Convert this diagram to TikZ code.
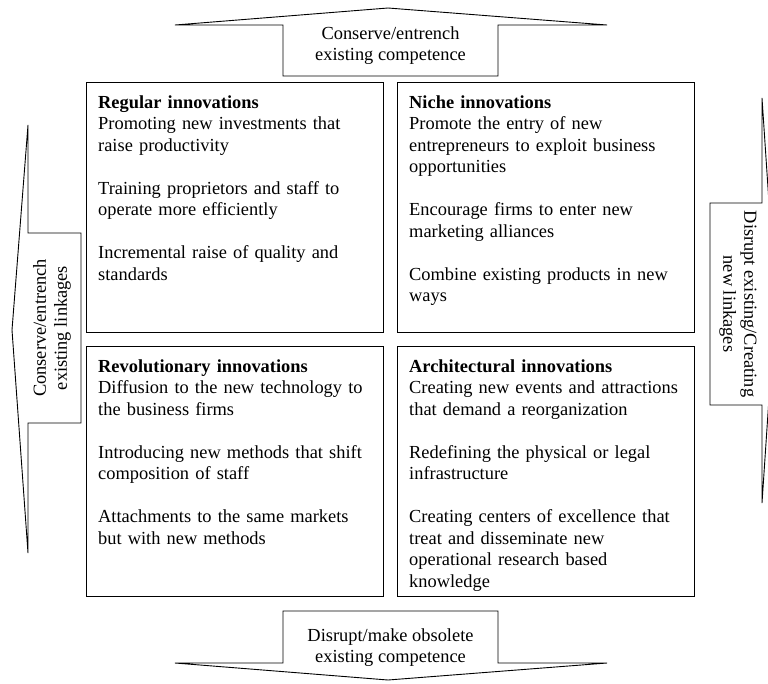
\documentclass[tikz,border=0pt]{standalone}
\usepackage{fontspec}
\setmainfont{Liberation Serif}
\begin{document}
\begin{tikzpicture}[x=1pt,y=-1pt,
  cell/.style={draw=black,line width=0.9pt,rectangle,minimum width=297pt,minimum height=250pt,inner sep=0pt,anchor=north west},
  celltext/.style={anchor=north west,inner sep=0pt,text width=290pt,align=left,font=\fontsize{18.4}{21.5}\selectfont},
  arrowshape/.style={draw=black,line width=0.9pt,line join=miter},
  arrowtext/.style={inner sep=0pt,align=center,font=\fontsize{18.4}{21}\selectfont}]
\clip (0,0) rectangle (768,683);
% boxes
\node[cell] (b1) at (86,82) {};
\node[cell] (b2) at (397,82) {};
\node[cell] (b3) at (86,346) {};
\node[cell] (b4) at (397,346) {};
\node[celltext] (t1) at ([xshift=12pt,yshift=-13.5pt]b1.north west) {\textbf{Regular innovations}\\
Promoting new investments that\\ raise productivity\\[21.5pt]
Training proprietors and staff to\\ operate more efficiently\\[21.5pt]
Incremental raise of quality and\\ standards};
\node[celltext] (t2) at ([xshift=12pt,yshift=-13.5pt]b2.north west) {\textbf{Niche innovations}\\
Promote the entry of new\\ entrepreneurs to exploit business\\ opportunities\\[21.5pt]
Encourage firms to enter new\\ marketing alliances\\[21.5pt]
Combine existing products in new\\ ways};
\node[celltext] (t3) at ([xshift=12pt,yshift=-13.5pt]b3.north west) {\textbf{Revolutionary innovations}\\
Diffusion to the new technology to\\ the business firms\\[21.5pt]
Introducing new methods that shift\\ composition of staff\\[21.5pt]
Attachments to the same markets\\ but with new methods};
\node[celltext] (t4) at ([xshift=12pt,yshift=-13.5pt]b4.north west) {\textbf{Architectural innovations}\\
Creating new events and attractions\\ that demand a reorganization\\[21.5pt]
Redefining the physical or legal\\ infrastructure\\[21.5pt]
Creating centers of excellence that\\ treat and disseminate new\\ operational research based\\ knowledge};
% top arrow
\draw[arrowshape] (175,25) -- (388,8) -- (607,25) -- (498,25) -- (498,76) -- (283,76) -- (283,25) -- cycle;
\node[arrowtext] (ta) at (390.5,46) {Conserve/entrench\\ existing competence};
% bottom arrow
\draw[arrowshape] (283,611) -- (498,611) -- (498,663) -- (607,663) -- (388,680) -- (175,663) -- (283,663) -- cycle;
\node[arrowtext] (ba) at (390.5,648) {Disrupt/make obsolete\\ existing competence};
% left arrow
\draw[arrowshape] (28,125) -- (12,330) -- (28,553) -- (28,423) -- (81,423) -- (81,233) -- (28,233) -- cycle;
\node[arrowtext,rotate=90] (la) at (52,328) {Conserve/entrench\\ existing linkages};
% right arrow
\draw[arrowshape] (762,98) -- (775.5,300.5) -- (762,503) -- (762,405) -- (710,405) -- (710,203) -- (762,203) -- cycle;
\node[arrowtext,rotate=-90] (ra) at (738,304) {Disrupt existing/Creating\\ new linkages};
\end{tikzpicture}
\end{document}
